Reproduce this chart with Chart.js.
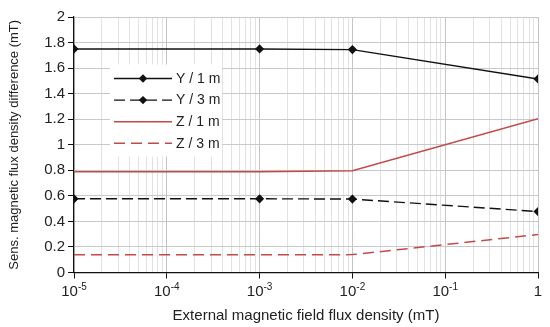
<!DOCTYPE html>
<html>
<head>
<meta charset="utf-8">
<script src="https://cdn.jsdelivr.net/npm/chart.js@4.4.1/dist/chart.umd.min.js"></script>
<style>
  html, body { margin: 0; padding: 0; background: #fff; }
  #wrap { width: 550px; height: 327px; }
</style>
</head>
<body>
<div id="wrap"><canvas id="c" width="550" height="327"></canvas></div>
<script>
// ---- data ----
const fieldValues = [1e-5, 1e-3, 1e-2, 1];
const y1m = [1.75, 1.75, 1.745, 1.515];
const y3m = [0.577, 0.577, 0.575, 0.477];
const z1m = [0.788, 0.788, 0.797, 1.203];
const z3m = [0.138, 0.138, 0.140, 0.297];
const seriesNames = ['Y / 1 m', 'Y / 3 m', 'Z / 1 m', 'Z / 3 m'];
const decades = [1e-5, 1e-4, 1e-3, 1e-2, 1e-1, 1];
const decadeLabels = [['10', '-5'], ['10', '-4'], ['10', '-3'], ['10', '-2'], ['10', '-1'], ['1', '']];
const yTicks = [0, 0.2, 0.4, 0.6, 0.8, 1, 1.2, 1.4, 1.6, 1.8, 2];

const BLACK = '#111';
const RED = '#c44a4a';
const FONT = '"Liberation Sans", Arial, Helvetica, sans-serif';

function pts(vals) { return fieldValues.map((x, i) => ({ x, y: vals[i] })); }

const datasets = [
  { label: seriesNames[0], data: pts(y1m), borderColor: BLACK, backgroundColor: BLACK, borderWidth: 1.4,
    pointStyle: 'rectRot', pointRadius: 3.6, pointBackgroundColor: BLACK, pointBorderColor: BLACK, dash: [] , marker: true},
  { label: seriesNames[1], data: pts(y3m), borderColor: BLACK, backgroundColor: BLACK, borderWidth: 1.4, borderDash: [11, 5],
    pointStyle: 'rectRot', pointRadius: 3.6, pointBackgroundColor: BLACK, pointBorderColor: BLACK, dash: [11, 5], marker: true },
  { label: seriesNames[2], data: pts(z1m), borderColor: RED, backgroundColor: RED, borderWidth: 1.5,
    pointRadius: 0, dash: [], marker: false },
  { label: seriesNames[3], data: pts(z3m), borderColor: RED, backgroundColor: RED, borderWidth: 1.5, borderDash: [11, 6],
    pointRadius: 0, dash: [11, 6], marker: false }
];

function isDecade(v) {
  return decades.some(d => Math.abs(v - d) / d < 1e-6);
}

// legend inside the plot area
const legendPlugin = {
  id: 'innerLegend',
  afterDatasetsDraw(chart) {
    const ctx = chart.ctx;
    const ca = chart.chartArea;
    const left = ca.left + 36, top = ca.top + 47.5, w = 112, h = 92;
    ctx.save();
    ctx.fillStyle = '#fff';
    ctx.fillRect(left, top, w, h);
    const rowY0 = top + 14, rowStep = 21.6;
    chart.data.datasets.forEach((ds, i) => {
      const y = rowY0 + i * rowStep;
      const x0 = left + 4, x1 = left + 62;
      ctx.beginPath();
      ctx.setLineDash(ds.dash);
      ctx.lineDashOffset = 0;
      ctx.strokeStyle = ds.borderColor;
      ctx.lineWidth = ds.borderWidth;
      ctx.moveTo(x0, y);
      ctx.lineTo(x1, y);
      ctx.stroke();
      ctx.setLineDash([]);
      if (ds.marker) {
        const cx = left + 33, r = 4.2;
        ctx.beginPath();
        ctx.moveTo(cx, y - r);
        ctx.lineTo(cx + r, y);
        ctx.lineTo(cx, y + r);
        ctx.lineTo(cx - r, y);
        ctx.closePath();
        ctx.fillStyle = ds.borderColor;
        ctx.fill();
      }
      ctx.fillStyle = '#222';
      ctx.font = '14px ' + FONT;
      ctx.textBaseline = 'middle';
      ctx.textAlign = 'left';
      ctx.fillText(ds.label, left + 66, y + 0.5);
    });
    ctx.restore();
  }
};

// x tick labels with superscript exponents
const xLabelPlugin = {
  id: 'xSupLabels',
  afterDraw(chart) {
    const ctx = chart.ctx;
    const xs = chart.scales.x;
    const baseY = chart.chartArea.bottom + 23;
    ctx.save();
    ctx.fillStyle = '#222';
    ctx.textBaseline = 'alphabetic';
    ctx.textAlign = 'left';
    decades.forEach((d, i) => {
      const [base, exp] = decadeLabels[i];
      const px = xs.getPixelForValue(d);
      ctx.font = '15px ' + FONT;
      const bw = ctx.measureText(base).width;
      ctx.font = '10px ' + FONT;
      const ew = exp ? ctx.measureText(exp).width : 0;
      let sx = px - (bw + ew) / 2;
      if (i === decades.length - 1) sx = px - bw / 2;
      ctx.font = '15px ' + FONT;
      ctx.fillText(base, sx, baseY);
      if (exp) {
        ctx.font = '10px ' + FONT;
        ctx.fillText(exp, sx + bw, baseY - 6);
      }
    });
    ctx.restore();
  }
};

new Chart(document.getElementById('c'), {
  type: 'line',
  data: { datasets },
  plugins: [legendPlugin, xLabelPlugin],
  options: {
    responsive: false,
    animation: false,
    devicePixelRatio: 1,
    layout: { padding: { top: 17, right: 12, left: 0, bottom: 0 } },
    plugins: { legend: { display: false }, tooltip: { enabled: false } },
    elements: { line: { tension: 0, fill: false } },
    scales: {
      x: {
        type: 'logarithmic',
        min: 1e-5, max: 1,
        afterBuildTicks(scale) {
          const t = [];
          decades.forEach((d, i) => {
            if (i === decades.length - 1) { t.push({ value: d }); return; }
            for (let k = 1; k <= 9; k++) t.push({ value: d * k });
          });
          scale.ticks = t;
        },
        afterFit(scale) { scale.height = 54.5; },
        ticks: {
          autoSkip: false, maxRotation: 0,
          callback: () => '',
          font: { size: 15, family: FONT }
        },
        grid: {
          drawOnChartArea: true,
          color: (c) => (c.tick && isDecade(c.tick.value)) ? '#c4c4c4' : '#e2e2e2',
          lineWidth: 1,
          tickLength: 6,
          tickColor: (c) => (c.tick && isDecade(c.tick.value)) ? '#111' : 'rgba(0,0,0,0)'
        },
        border: { color: '#111', width: 1.2 },
        title: {
          display: true,
          text: 'External magnetic field flux density (mT)',
          color: '#222',
          font: { size: 15, family: FONT },
          padding: { top: 0, bottom: 2 }
        }
      },
      y: {
        type: 'linear',
        min: 0, max: 2,
        afterBuildTicks(scale) { scale.ticks = yTicks.map(v => ({ value: v })); },
        afterFit(scale) { scale.width = 74; },
        ticks: {
          color: '#222',
          padding: 3,
          font: { size: 15, family: FONT },
          callback: (v) => String(Math.round(v * 10) / 10)
        },
        grid: { color: '#c8c8c8', lineWidth: 1, tickLength: 6, tickColor: '#111' },
        border: { color: '#111', width: 1.2 },
        title: {
          display: true,
          text: 'Sens. magnetic flux density difference (mT)',
          color: '#222',
          font: { size: 13, family: FONT },
          padding: { top: 7, bottom: 0 }
        }
      }
    }
  }
});
</script>
</body>
</html>
